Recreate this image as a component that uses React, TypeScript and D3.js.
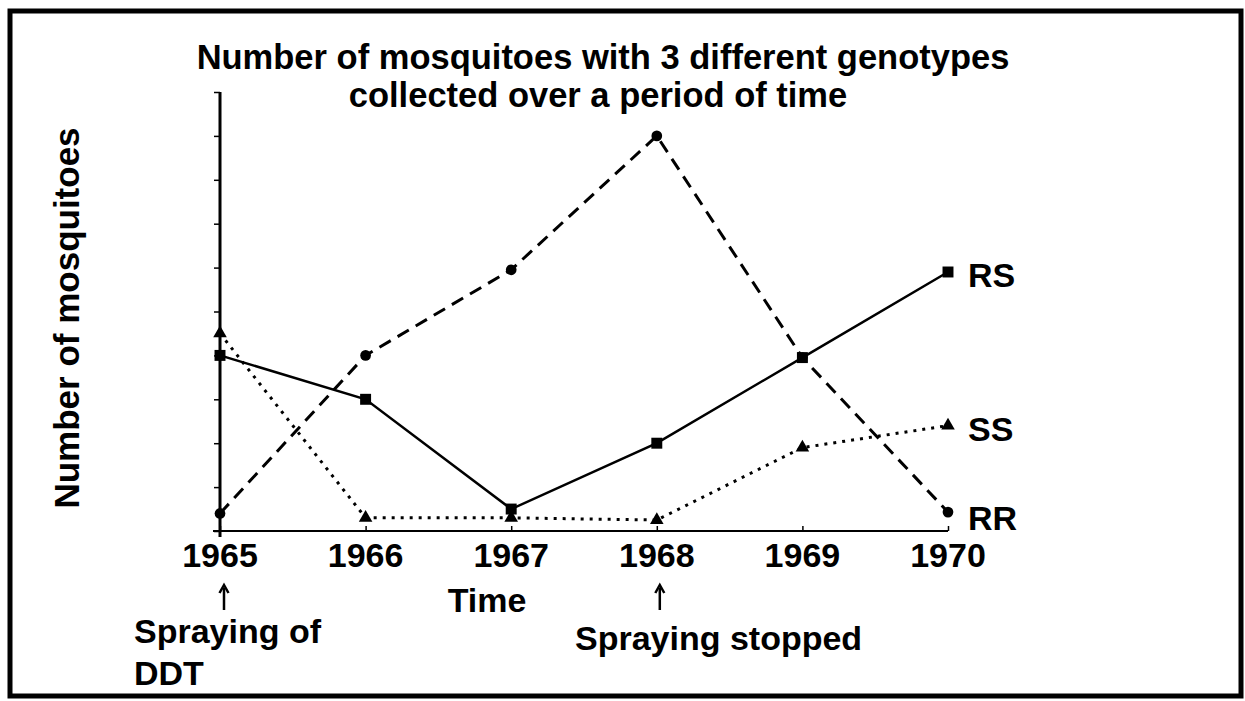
import React, { useRef, useEffect } from "react";
import * as d3 from "d3";

// chart data
const years = [1965, 1966, 1967, 1968, 1969, 1970];
const rrValues = [0.4, 4.0, 5.95, 9.0, 3.95, 0.43];
const rsValues = [4.0, 3.0, 0.5, 2.0, 3.95, 5.9];
const ssValues = [4.5, 0.3, 0.3, 0.25, 1.9, 2.4];
const yTicks = [0, 1, 2, 3, 4, 5, 6, 7, 8, 9, 10];
const seriesNames = ["RS", "SS", "RR"];

const W = 1245;
const H = 701;
const FONT = "'Liberation Sans', Arial, sans-serif";

const App = () => {
  const svgRef = useRef<SVGSVGElement>(null);

  useEffect(() => {
    const svg = d3.select(svgRef.current);
    svg.selectAll("*").remove();

    const xScale = d3.scaleLinear().domain([1965, 1970]).range([220, 948]);
    const yScale = d3.scaleLinear().domain([0, 10]).range([531, 92]);

    // frame
    svg.append("rect")
      .attr("x", 10).attr("y", 11)
      .attr("width", 1231).attr("height", 685)
      .attr("fill", "none").attr("stroke", "#000").attr("stroke-width", 5);

    // title, two lines
    svg.append("text")
      .attr("x", 603).attr("y", 69)
      .attr("font-family", FONT).attr("font-weight", "bold").attr("font-size", 34.5)
      .attr("text-anchor", "middle")
      .text("Number of mosquitoes with 3 different genotypes");
    svg.append("text")
      .attr("x", 598).attr("y", 107)
      .attr("font-family", FONT).attr("font-weight", "bold").attr("font-size", 34.5)
      .attr("text-anchor", "middle")
      .text("collected over a period of time");

    // y axis
    const yAxis = d3.axisLeft(yScale).tickValues(yTicks).tickSize(6).tickFormat(() => "");
    const gy = svg.append("g").attr("transform", `translate(${xScale(1965)},0)`).call(yAxis);
    gy.select(".domain").remove();
    gy.selectAll("line").attr("stroke-width", 1.5);
    svg.append("line")
      .attr("x1", xScale(1965)).attr("x2", xScale(1965))
      .attr("y1", yScale(10)).attr("y2", yScale(0) + 6)
      .attr("stroke", "#000").attr("stroke-width", 3);

    // x axis
    const xAxis = d3.axisTop(xScale).tickValues(years).tickSize(5).tickFormat(() => "");
    const gx = svg.append("g").attr("transform", `translate(0,${yScale(0)})`).call(xAxis);
    gx.select(".domain").remove();
    gx.selectAll("line").attr("stroke-width", 1.5);
    svg.append("line")
      .attr("x1", xScale(1965) - 7).attr("x2", xScale(1970))
      .attr("y1", yScale(0)).attr("y2", yScale(0))
      .attr("stroke", "#000").attr("stroke-width", 2);

    svg.append("g").selectAll("text").data(years).enter().append("text")
      .attr("x", d => xScale(d)).attr("y", 567)
      .attr("text-anchor", "middle")
      .attr("font-family", FONT).attr("font-weight", "bold").attr("font-size", 34)
      .text(d => d);

    // axis titles
    svg.append("text")
      .attr("transform", `translate(79,318) rotate(-90)`)
      .attr("text-anchor", "middle")
      .attr("font-family", FONT).attr("font-weight", "bold").attr("font-size", 35)
      .text("Number of mosquitoes");
    svg.append("text")
      .attr("x", 487).attr("y", 612)
      .attr("text-anchor", "middle")
      .attr("font-family", FONT).attr("font-weight", "bold").attr("font-size", 34)
      .text("Time");

    // annotations
    const arrow = (x: number) => {
      svg.append("line").attr("x1", x).attr("x2", x).attr("y1", 588).attr("y2", 610)
        .attr("stroke", "#000").attr("stroke-width", 2.5);
      svg.append("path")
        .attr("d", `M${x - 4.5},${593} L${x},${585} L${x + 4.5},${593}`)
        .attr("fill", "none").attr("stroke", "#000").attr("stroke-width", 2.5);
    };
    arrow(xScale(1965) + 4);
    arrow(xScale(1968) + 3);

    const note = svg.append("text")
      .attr("font-family", FONT).attr("font-weight", "bold").attr("font-size", 34);
    note.append("tspan").attr("x", 134).attr("y", 643).text("Spraying of");
    note.append("tspan").attr("x", 134).attr("y", 685).text("DDT");
    svg.append("text")
      .attr("x", 575).attr("y", 650)
      .attr("font-family", FONT).attr("font-weight", "bold").attr("font-size", 34)
      .text("Spraying stopped");

    // lines
    const lineGen = d3.line<number>()
      .x((_, i) => xScale(years[i]))
      .y(d => yScale(d));

    const series = [
      { name: "RR", values: rrValues, dash: "13,8", width: 3, symbol: d3.symbolCircle, size: 90 },
      { name: "RS", values: rsValues, dash: null, width: 2.5, symbol: d3.symbolSquare, size: 120 },
      { name: "SS", values: ssValues, dash: "3,6", width: 3, symbol: d3.symbolTriangle, size: 80 },
    ];

    series.forEach(s => {
      const p = svg.append("path")
        .datum(s.values)
        .attr("d", lineGen)
        .attr("fill", "none")
        .attr("stroke", "#000")
        .attr("stroke-width", s.width);
      if (s.dash) p.attr("stroke-dasharray", s.dash);

      svg.append("g").selectAll("path").data(s.values).enter().append("path")
        .attr("transform", (d, i) => `translate(${xScale(years[i])},${yScale(d)})`)
        .attr("d", d3.symbol().type(s.symbol).size(s.size)() as string)
        .attr("fill", "#000");
    });

    // series labels at the right end
    const lastVals: Record<string, number> = { RS: rsValues[5], SS: ssValues[5], RR: rrValues[5] };
    const labelBase: Record<string, number> = { RS: 287, SS: 441, RR: 530 };
    seriesNames.forEach(n => {
      svg.append("text")
        .attr("x", xScale(1970) + 20)
        .attr("y", labelBase[n])
        .attr("data-value", lastVals[n])
        .attr("font-family", FONT).attr("font-weight", "bold").attr("font-size", 34)
        .text(n);
    });
  }, []);

  return (
    <svg
      ref={svgRef}
      width={W}
      height={H}
      style={{ position: "absolute", left: 0, top: 0, background: "#fff" }}
    />
  );
};

export default App;
